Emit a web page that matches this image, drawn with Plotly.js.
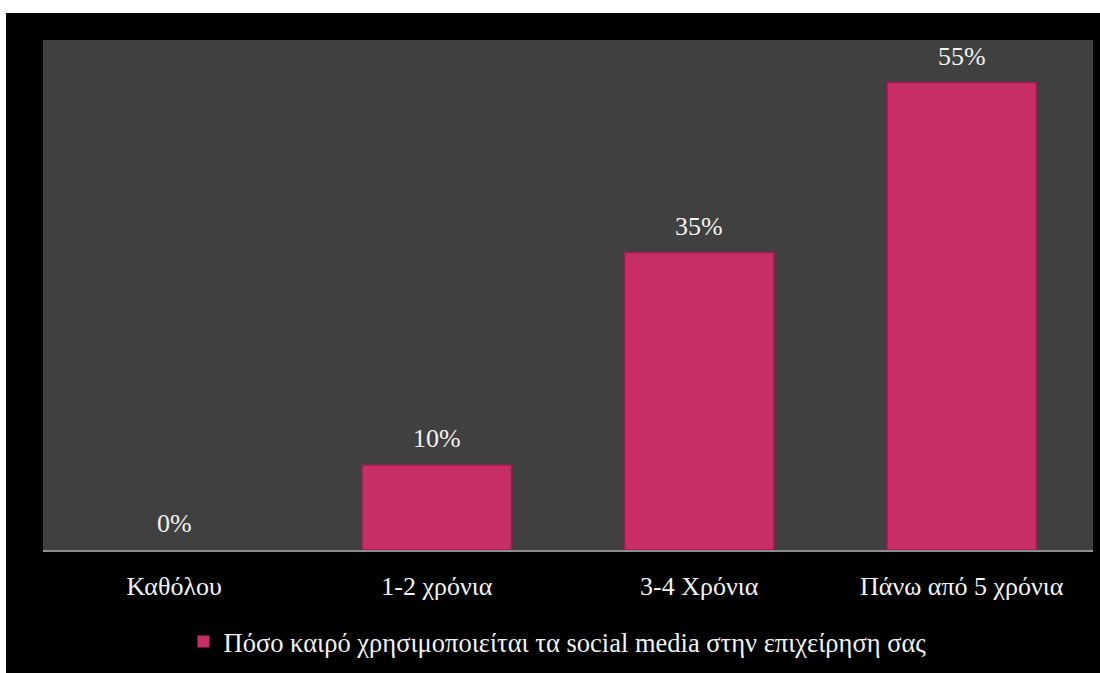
<!DOCTYPE html>
<html>
<head>
<meta charset="utf-8">
<script src="https://cdn.plot.ly/plotly-3.0.1.min.js"></script>
<style>
  html, body { margin: 0; padding: 0; background: #ffffff; width: 1100px; height: 673px; overflow: hidden; }
  #chart { position: absolute; left: 6px; top: 13px; width: 1094px; height: 660px; }
</style>
</head>
<body>
<div id="chart"></div>
<script>
const categories = ["Καθόλου", "1-2 χρόνια", "3-4 Χρόνια", "Πάνω από 5 χρόνια"];
const values = [0, 10, 35, 55];
const labels = ["0%", "10%", "35%", "55%"];
const seriesName = "Πόσο καιρό χρησιμοποιείται τα social media στην επιχείρηση σας";

const font = "'Liberation Serif', 'Times New Roman', 'DejaVu Serif', serif";

const trace = {
  type: "bar",
  x: categories,
  y: values,
  name: seriesName,
  marker: {
    color: "#c72e65",
    line: { color: "#941f50", width: values.map(v => (v > 0 ? 1.5 : 0)) }
  },
  hoverinfo: "skip",
  showlegend: true
};

const annotations = categories.map((c, i) => ({
  x: c, y: values[i], xref: "x", yref: "y",
  text: labels[i], showarrow: false,
  yanchor: "bottom", yshift: 10,
  font: { family: font, size: 26, color: "#f2f2f2" }
}));

const layout = {
  width: 1094, height: 660,
  margin: { l: 37, r: 7, t: 27, b: 121 },
  paper_bgcolor: "#000000",
  plot_bgcolor: "#404040",
  bargap: 0.43,
  font: { family: font, size: 26, color: "#f2f2f2" },
  xaxis: {
    type: "category",
    showgrid: false,
    showline: true, linecolor: "#8c8c8c", linewidth: 2,
    ticks: "", ticklabelstandoff: 12,
    tickfont: { family: font, size: 26, color: "#f2f2f2" },
    fixedrange: true
  },
  yaxis: {
    range: [0, 60],
    visible: false,
    showgrid: false,
    zeroline: false,
    fixedrange: true
  },
  showlegend: true,
  legend: {
    orientation: "h",
    x: 0.49, xanchor: "center",
    y: -0.18, yanchor: "middle",
    font: { family: font, size: 26.5, color: "#f2f2f2" },
    bgcolor: "rgba(0,0,0,0)",
    itemwidth: 30
  },
  annotations: annotations
};

Plotly.newPlot("chart", [trace], layout, { displayModeBar: false, staticPlot: true });
</script>
</body>
</html>
